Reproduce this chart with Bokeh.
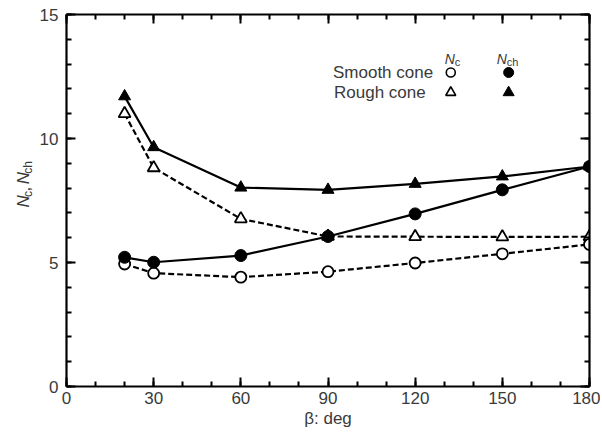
import math
from bokeh.plotting import figure
from bokeh.layouts import row
from bokeh.models import LinearAxis, SingleIntervalTicker, Range1d
from bokeh.core.properties import value
from bokeh.embed import file_html
from bokeh.resources import INLINE

# ---- data ----
beta = [20, 30, 60, 90, 120, 150, 180]
smooth_nc = [4.94, 4.57, 4.41, 4.63, 4.98, 5.35, 5.73]
smooth_nch = [5.21, 5.01, 5.28, 6.05, 6.96, 7.93, 8.87]
rough_nc = [11.0, 8.82, 6.76, 6.05, 6.04, 6.03, 6.04]
rough_nch = [11.7, 9.65, 8.02, 7.93, 8.17, 8.47, 8.87]

x_ticks_interval = 30
y_ticks_interval = 5

FONT = "Liberation Sans"
TXT = "#3a3a3a"

H = 436
LBLW = 36
TOTW = 600
FRAME_L, FRAME_T, FRAME_W, FRAME_H = 65, 14, 524, 372
PW = TOTW - LBLW

p = figure(width=PW, height=H, output_backend="svg", toolbar_location=None,
           x_range=Range1d(0, 180), y_range=Range1d(0, 15),
           min_border_left=FRAME_L - LBLW, min_border_right=PW - (FRAME_L - LBLW) - FRAME_W,
           min_border_top=FRAME_T, min_border_bottom=H - FRAME_T - FRAME_H)
p.outline_line_color = None
p.grid.visible = False
p.background_fill_color = "white"
p.border_fill_color = "white"

def style_axis(ax, interval, minor, show_labels, standoff):
    ax.ticker = SingleIntervalTicker(interval=interval, num_minor_ticks=minor)
    ax.axis_line_width = 2.2
    ax.axis_line_color = "black"
    ax.major_tick_in = 9
    ax.major_tick_out = 0
    ax.minor_tick_in = 5
    ax.minor_tick_out = 0
    ax.major_tick_line_width = 2
    ax.minor_tick_line_width = 2
    ax.major_tick_line_color = "black"
    ax.minor_tick_line_color = "black"
    ax.major_label_standoff = standoff
    if show_labels:
        ax.major_label_text_font = FONT
        ax.major_label_text_font_size = "17px"
        ax.major_label_text_color = TXT
    else:
        ax.major_label_text_font_size = "0px"
        ax.major_label_text_color = None

style_axis(p.xaxis[0], x_ticks_interval, 3, True, 5)
style_axis(p.yaxis[0], y_ticks_interval, 5, True, 8)
p.xaxis[0].axis_label = "β: deg"
p.xaxis[0].axis_label_text_font = FONT
p.xaxis[0].axis_label_text_font_size = "17px"
p.xaxis[0].axis_label_text_font_style = "normal"
p.xaxis[0].axis_label_text_color = TXT
p.xaxis[0].axis_label_standoff = 2

top = LinearAxis()
right = LinearAxis()
style_axis(top, x_ticks_interval, 3, False, 0)
style_axis(right, y_ticks_interval, 5, False, 0)
p.add_layout(top, "above")
p.add_layout(right, "right")

# ---- lines ----
p.line(beta, rough_nc, line_color="black", line_width=2.2, line_dash="6 3")
p.line(beta, smooth_nc, line_color="black", line_width=2.2, line_dash="6 3")
p.line(beta, rough_nch, line_color="black", line_width=2.2)
p.line(beta, smooth_nch, line_color="black", line_width=2.2)

# ---- markers ----
p.scatter(beta, rough_nc, marker="triangle", size=12, fill_color="white", line_color="black", line_width=1.8)
p.scatter(beta, smooth_nc, marker="circle", size=11, fill_color="white", line_color="black", line_width=1.8)
p.scatter(beta, rough_nch, marker="triangle", size=12, fill_color="black", line_color="black")
p.scatter(beta, smooth_nch, marker="circle", size=12, fill_color="black", line_color="black")

# ---- pixel helpers (layout only) ----
def dx(px):
    return (px - FRAME_L) / (FRAME_W / 180)

def dy(py):
    return (FRAME_T + FRAME_H - py) / (FRAME_H / 15)

# ---- legend ----
p.text(x=[dx(332)], y=[dy(72)], text=["Smooth cone"], text_font=value(FONT), text_font_size="17px",
       text_color=TXT, text_baseline="middle", text_align="left")
p.text(x=[dx(333)], y=[dy(92)], text=["Rough cone"], text_font=value(FONT), text_font_size="17px",
       text_color=TXT, text_baseline="middle", text_align="left")
p.scatter([dx(450)], [dy(72)], marker="circle", size=9, fill_color="white", line_color="black", line_width=1.6)
p.scatter([dx(508)], [dy(72)], marker="circle", size=10, fill_color="black", line_color="black")
p.scatter([dx(450)], [dy(92)], marker="triangle", size=10, fill_color="white", line_color="black", line_width=1.6)
p.scatter([dx(508)], [dy(92)], marker="triangle", size=11, fill_color="black", line_color="black")
for (xn, sub) in [(444, "c"), (496, "ch")]:
    p.text(x=[dx(xn)], y=[dy(58)], text=["N"], text_font=value(FONT), text_font_size="14px",
           text_font_style="italic", text_color=TXT, text_baseline="alphabetic", text_align="left")
    p.text(x=[dx(xn + 10)], y=[dy(61)], text=[sub], text_font=value(FONT), text_font_size="11px",
           text_color=TXT, text_baseline="alphabetic", text_align="left")

# ---- y axis label figure: N_c, N_ch (rotated, composed) ----
lf = figure(width=LBLW, height=H, output_backend="svg", toolbar_location=None,
            x_range=Range1d(0, LBLW), y_range=Range1d(H, 0),
            min_border=0, min_border_left=0, min_border_right=0,
            min_border_top=0, min_border_bottom=0)
lf.axis.visible = False
lf.grid.visible = False
lf.outline_line_color = None
lf.background_fill_color = "white"
lf.border_fill_color = "white"

pieces = [("N", 17, "italic", 24, 12.3),
          ("c", 12, "normal", 28, 6.5),
          (",", 17, "normal", 24, 8.5),
          ("N", 17, "italic", 24, 12.3),
          ("ch", 12, "normal", 28, 12.7)]
total = sum(pc[4] for pc in pieces)
ypos = 200 + total / 2
for txt, fs, style, bx, w in pieces:
    lf.text(x=[bx - 1], y=[ypos], text=[txt], angle=math.pi / 2,
            text_font=value(FONT), text_font_size=f"{fs}px", text_font_style=style,
            text_color=TXT, text_align="left", text_baseline="alphabetic")
    ypos -= w

layout = row(lf, p, spacing=0)
open("out.html", "w").write(file_html(layout, INLINE))
